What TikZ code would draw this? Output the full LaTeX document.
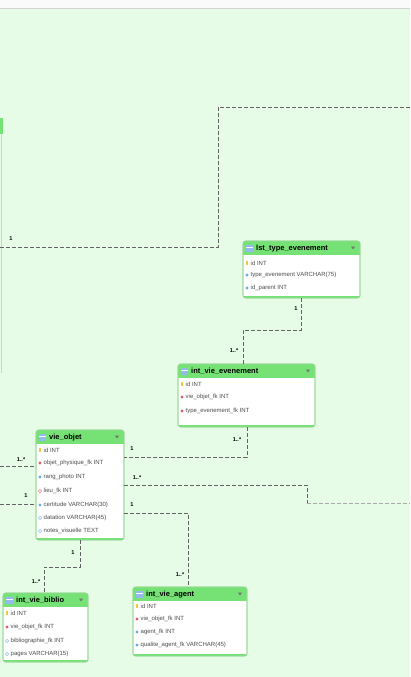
\documentclass[tikz,border=0pt]{standalone}
\usepackage{fontspec}
\setmainfont{Liberation Sans}
\usetikzlibrary{calc,shapes.geometric}
\definecolor{bgc}{RGB}{230,252,230}
\definecolor{hdrc}{RGB}{118,226,118}
\definecolor{brdc}{RGB}{150,215,150}
\definecolor{relc}{RGB}{100,100,100}
\definecolor{keyc}{RGB}{240,200,60}
\definecolor{fkc}{RGB}{220,95,105}
\definecolor{colc}{RGB}{110,170,220}
\definecolor{iconc}{RGB}{150,185,235}
\tikzset{
  rel/.style={draw=relc, line width=0.8pt, dash pattern=on 3.8pt off 2.2pt},
  card/.style={font=\fontsize{5.6}{6}\selectfont\bfseries, text=black, inner sep=0pt},
  rowtxt/.style={font=\fontsize{6}{6.5}\selectfont, text=black!70, inner sep=0pt, anchor=west},
  hdrtxt/.style={font=\fontsize{7.5}{8}\selectfont\bfseries, text=black, inner sep=0pt, anchor=west},
  tblbody/.style={draw=brdc, fill=white, rounded corners=2.5pt, line width=0.6pt, inner sep=0pt, outer sep=0pt},
  keyic/.style={fill=keyc, minimum width=1.6pt, minimum height=3.2pt, inner sep=0pt},
  fkic/.style={diamond, fill=fkc, minimum size=3.4pt, inner sep=0pt},
  colic/.style={diamond, fill=colc, minimum size=3.4pt, inner sep=0pt},
  nulic/.style={diamond, draw=colc, fill=white, line width=0.35pt, minimum size=3.4pt, inner sep=0pt},
  nulfk/.style={diamond, draw=fkc, fill=white, line width=0.35pt, minimum size=3.4pt, inner sep=0pt},
}
\newcommand{\ertable}[6]{%
  \node[tblbody, minimum width=#4pt, minimum height=#5pt, anchor=north west] (#1) at (#2,#3) {};
  \begin{scope}
    \clip[rounded corners=2.5pt] (#1.south west) rectangle (#1.north east);
    \fill[hdrc] (#1.north west) rectangle ([yshift=-14pt]#1.north east);
    \fill[hdrc] (#1.south west) rectangle ([yshift=2.5pt]#1.south east);
  \end{scope}
  \draw[brdc, line width=0.6pt, rounded corners=2.5pt] (#1.south west) rectangle (#1.north east);
  \fill[iconc] ([xshift=3pt,yshift=-4pt]#1.north west) rectangle ([xshift=10pt,yshift=-10.5pt]#1.north west);
  \draw[white, line width=0.3pt] ([xshift=3pt,yshift=-6pt]#1.north west) -- ([xshift=10pt,yshift=-6pt]#1.north west);
  \node[hdrtxt] (#1-title) at ([xshift=13pt,yshift=-7.3pt]#1.north west) {#6};
  \fill[black!55] ([xshift=-9pt,yshift=-5.5pt]#1.north east) -- ([xshift=-5pt,yshift=-5.5pt]#1.north east) -- ([xshift=-7pt,yshift=-8.5pt]#1.north east) -- cycle;
}
\newcommand{\errow}[4]{%
  \node[#3] (#1-i#2) at ([xshift=4pt,yshift=-#2pt]#1.north west) {};
  \node[rowtxt] (#1-r#2) at ([xshift=7.5pt,yshift=-#2pt]#1.north west) {#4};
}
\begin{document}
\begin{tikzpicture}[x=1pt,y=-1pt]
\useasboundingbox (0,0) rectangle (410,677);
\fill[bgc] (0,0) rectangle (410,677);
\fill[black!2] (0,0) rectangle (410,8);
\draw[black!18, line width=0.6pt] (0,8.5) -- (410,8.5);

% off-screen table edge at the left
\fill[hdrc] (0,118) rectangle (3,134);
\draw[brdc!70, line width=0.5pt] (1.5,134) -- (1.5,373);

% tables
\ertable{lte}{243}{241}{117}{57}{lst\_type\_evenement}
\errow{lte}{22}{keyic}{id INT}
\errow{lte}{34}{colic}{type\_evenement VARCHAR(75)}
\errow{lte}{47}{colic}{id\_parent INT}

\ertable{ive}{178}{364}{137}{63}{int\_vie\_evenement}
\errow{ive}{20}{keyic}{id INT}
\errow{ive}{33}{fkic}{vie\_objet\_fk INT}
\errow{ive}{47}{fkic}{type\_evenement\_fk INT}

\ertable{vo}{36}{430}{88}{110}{vie\_objet}
\errow{vo}{20}{keyic}{id INT}
\errow{vo}{33}{fkic}{objet\_physique\_fk INT}
\errow{vo}{47}{colic}{rang\_photo INT}
\errow{vo}{61}{nulfk}{lieu\_fk INT}
\errow{vo}{75}{colic}{certitude VARCHAR(30)}
\errow{vo}{88}{nulic}{datation VARCHAR(45)}
\errow{vo}{101}{nulic}{notes\_visuelle TEXT}

\ertable{ivb}{3}{593}{85}{69}{int\_vie\_biblio}
\errow{ivb}{20}{keyic}{id INT}
\errow{ivb}{34}{fkic}{vie\_objet\_fk INT}
\errow{ivb}{48}{nulic}{bibliographie\_fk INT}
\errow{ivb}{61}{nulic}{pages VARCHAR(15)}

\ertable{iva}{133}{587}{114}{69}{int\_vie\_agent}
\errow{iva}{19}{keyic}{id INT}
\errow{iva}{32}{fkic}{vie\_objet\_fk INT}
\errow{iva}{45}{colic}{agent\_fk INT}
\errow{iva}{58}{colic}{qualite\_agent\_fk VARCHAR(45)}

% connectors
\coordinate (c1s) at (0,247);
\coordinate (c1b) at (218,107);
\coordinate (c1e) at (410,107);
\draw[rel] (c1s) -| (c1b) -- (c1e);

\coordinate (c2m) at (243,330);
\draw[rel] ($(lte.south west)+(58,0)$) |- (c2m) -- (c2m |- ive.north);

\draw[rel] ($(ive.south west)+(69,0)$) |- ($(vo.north east)+(0,27)$);

\coordinate (c4s) at (0,466);
\draw[rel] (c4s) -- (c4s -| vo.west);
\coordinate (c5s) at (0,504);
\draw[rel] (c5s) -- (c5s -| vo.west);

\coordinate (c6m) at (307,503);
\coordinate (c6e) at (410,503);
\draw[rel] ($(vo.north east)+(0,55)$) -| (c6m);
\draw[rel, draw=relc!55] (c6m) -- (c6e);

\draw[rel] ($(vo.north east)+(0,83)$) -| ($(iva.north west)+(55,0)$);

\coordinate (c8m) at ($(ivb.north west)+(41,-26)$);
\draw[rel] ($(vo.south west)+(44,0)$) |- (c8m) -- (c8m |- ivb.north);

% cardinalities
\node[card] (l1) at (11,239) {1};
\node[card] (l2) at (296,309) {1};
\node[card] (l3) at (234,351) {1..*};
\node[card] (l4) at (237,440) {1..*};
\node[card] (l5) at (132,449) {1};
\node[card] (l6) at (21,460) {1..*};
\node[card] (l7) at (26,496) {1};
\node[card] (l8) at (137,478) {1..*};
\node[card] (l9) at (132,505) {1};
\node[card] (l10) at (180,575) {1..*};
\node[card] (l11) at (73,553) {1};
\node[card] (l12) at (36,582) {1..*};
\end{tikzpicture}
\end{document}
